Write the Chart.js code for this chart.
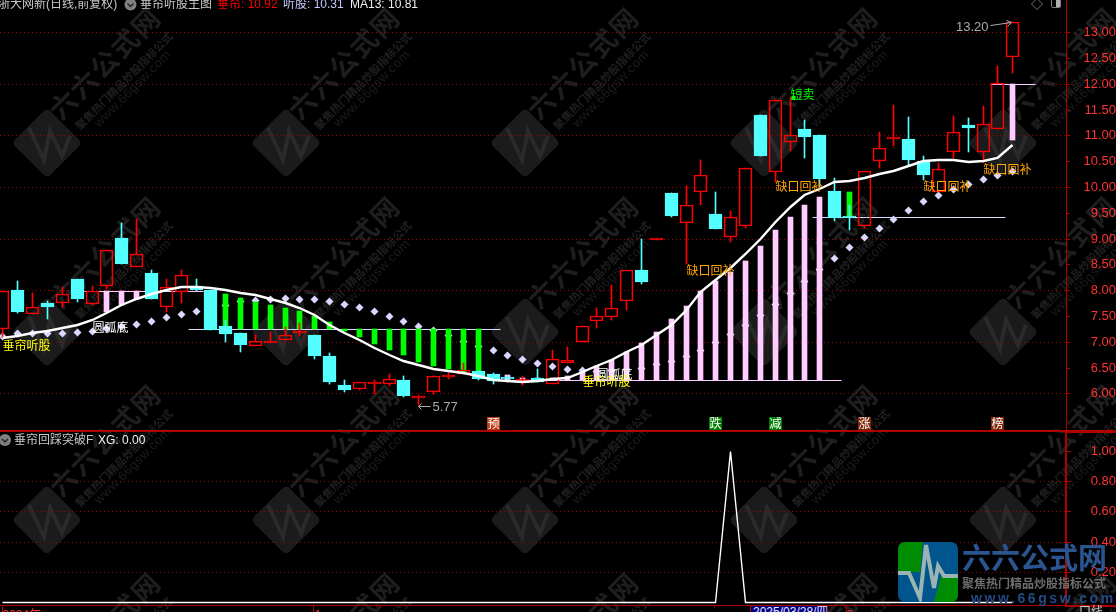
<!DOCTYPE html>
<html lang="zh">
<head>
    <meta charset="UTF-8">
    <title>垂帘听股主图</title>
    <script src="https://cdn.jsdelivr.net/npm/chart.js"></script>
    <style>
        html, body {
            margin: 0;
            width: 1116px;
            height: 612px;
            overflow: hidden;
            background: #000;
        }
        body {
            position: relative;
            font-family: "Liberation Sans", "Noto Sans CJK SC", sans-serif;
            font-size: 12px;
        }
        canvas, .t, .line, #selBox, #dateBox, #logo, svg { position: absolute; }
        .t { white-space: nowrap; line-height: 14px; }
        .line { background: #b00000; }
        #selBox { left: 1065px; top: 431px; width: 60px; height: 172px; border: 2px solid #b00000; }
        #dateBox {
            left: 750px; top: 605px; width: 78px; height: 12px;
            background: #000080; border: 1px solid #b00000; box-sizing: border-box;
            color: #e6e6ff; padding-left: 2px; line-height: 13px; white-space: nowrap; overflow: hidden;
        }
        #logoTitle { left: 962px; top: 540px; font: bold 29px/32px "Noto Sans CJK SC"; color: #2a5590; }
        #logoSub { left: 962px; top: 575px; font: bold 12px/16px "Noto Sans CJK SC"; color: #6e6e6e; }
        #logoUrl { left: 971px; top: 590px; font: bold 14px/16px "Liberation Sans"; color: #234a85; letter-spacing: 2.6px; }
    </style>
</head>
<body>
    <canvas id="wm" width="1116" height="612" style="left:0;top:0"></canvas>
    <canvas id="priceChart" width="1116" height="431" style="left:0;top:0"></canvas>
    <canvas id="xgChart" width="1116" height="181" style="left:0;top:431px"></canvas>

    <div class="line" style="left:0;top:430px;width:1116px;height:2px"></div>
    <div id="selBox"></div>

    <span class="t" style="left:-2px;top:-3px;color:#c8c8c8">浙大网新(日线,前复权)</span>
    <svg style="left:124px;top:-2px" width="13" height="13"><circle cx="6.5" cy="6.5" r="6" fill="#808080"/><path d="M3.5 5.5l3 3 3-3" stroke="#222" stroke-width="1.4" fill="none"/></svg>
    <span class="t" style="left:140px;top:-3px;color:#c8c8c8">垂帘听股主图</span>
    <span class="t" style="left:217px;top:-3px;color:#ff0000">垂帘: 10.92</span>
    <span class="t" style="left:283px;top:-3px;color:#c8c8ff">听股: 10.31</span>
    <span class="t" style="left:350px;top:-3px;color:#f0f0f0">MA13: 10.81</span>
    <svg style="left:1030px;top:-2px" width="36" height="14"><path d="M7 0.5l5.5 5.5-5.5 5.5-5.5-5.5z" fill="none" stroke="#707070"/><rect x="21.5" y="0.5" width="9" height="9" rx="1.5" fill="none" stroke="#808080"/><rect x="26" y="1" width="4" height="8" fill="#b0b0b0"/></svg>

    <svg style="left:-1px;top:434px" width="13" height="13"><circle cx="6" cy="6" r="6" fill="#808080"/><path d="M3 5l3 3 3-3" stroke="#222" stroke-width="1.4" fill="none"/></svg>
    <span class="t" style="left:14px;top:433px;color:#c8c8c8">垂帘回踩突破F</span>
    <span class="t" style="left:98px;top:433px;color:#f0f0f0">XG: 0.00</span>

    <div id="dateBox">2025/03/28/四</div>
    <span class="t" style="left:1079px;top:605px;color:#c8c8c8">口线</span>

    <svg style="left:898px;top:542px" width="60" height="60" viewBox="0 0 60 60">
        <clipPath id="tile"><rect width="60" height="60" rx="7"/></clipPath>
        <g clip-path="url(#tile)">
            <rect width="60" height="60" fill="#00558c"/>
            <path d="M0 0H25L22 30H0z" fill="#008c00"/>
            <path d="M36 60H60V32H44z" fill="#008c00"/>
            <path d="M0 31H11L22 56 28 3 36 46 40 24 46 34H60" fill="none" stroke="#9ab4b4" stroke-width="4"/>
        </g>
    </svg>
    <span class="t" id="logoTitle">六六公式网</span>
    <span class="t" id="logoSub">聚焦热门精品炒股指标公式</span>
    <span class="t" id="logoUrl">www.66gsw.com</span>

    <script>
        // daily candles
        const candleOpen = [7.25, 8.00, 7.54, 7.75, 7.76, 8.22, 7.74, 8.09, 9.01, 8.45, 8.33, 7.68, 7.97, 8.09, 8.00, 7.30, 7.17, 6.92, 6.98, 7.04, 7.16, 7.14, 6.72, 6.17, 6.09, 6.19, 6.19, 6.25, 5.90, 6.03, 6.32, 6.38, 6.43, 6.37, 6.29, 6.23, 6.29, 6.19, 6.59, 7.00, 7.41, 7.47, 7.78, 8.40, 8.98, 9.88, 9.30, 9.90, 9.48, 9.04, 9.25, 11.40, 10.30, 10.88, 11.12, 11.01, 9.92, 9.42, 9.25, 10.51, 10.94, 10.93, 10.51, 9.91, 10.68, 11.20, 10.67, 11.12, 12.52];
        const candleClose = [7.98, 7.58, 7.67, 7.68, 7.92, 7.83, 7.98, 8.77, 8.51, 8.71, 7.83, 8.06, 8.29, 8.00, 7.23, 7.15, 6.94, 7.01, 7.01, 7.14, 7.19, 6.72, 6.22, 6.06, 6.21, 6.22, 6.27, 5.95, 5.94, 6.33, 6.35, 6.45, 6.28, 6.24, 6.28, 6.24, 6.21, 6.66, 6.64, 7.30, 7.49, 7.65, 8.40, 8.16, 8.99, 9.44, 9.65, 10.23, 9.19, 9.41, 10.36, 10.60, 11.68, 11.00, 10.97, 10.16, 9.40, 9.39, 10.32, 10.75, 10.97, 10.52, 10.23, 10.34, 11.06, 11.14, 11.22, 12.01, 13.20];
        const candleHigh = [7.98, 8.18, 7.94, 7.79, 8.06, 8.22, 8.08, 8.77, 9.30, 9.38, 8.39, 8.21, 8.39, 8.22, 8.00, 7.42, 7.17, 7.14, 7.19, 7.28, 7.37, 7.14, 6.78, 6.26, 6.21, 6.26, 6.37, 6.33, 5.96, 6.33, 6.43, 6.59, 6.43, 6.40, 6.34, 6.33, 6.47, 6.84, 6.89, 7.30, 7.65, 8.10, 8.40, 9.00, 8.99, 9.88, 10.01, 10.52, 9.90, 9.53, 10.36, 11.40, 11.68, 11.75, 11.29, 11.01, 10.17, 9.65, 10.32, 11.07, 11.59, 11.36, 10.60, 10.46, 11.38, 11.34, 11.57, 12.35, 13.20];
        const candleLow = [7.08, 7.56, 7.53, 7.44, 7.68, 7.77, 7.71, 8.02, 8.51, 8.45, 7.83, 7.58, 7.76, 7.98, 7.23, 7.00, 6.80, 6.92, 6.98, 7.04, 7.12, 6.67, 6.18, 6.03, 6.06, 5.99, 6.15, 5.93, 5.77, 5.99, 6.28, 6.38, 6.26, 6.19, 6.21, 6.16, 6.21, 6.19, 6.59, 7.00, 7.27, 7.42, 7.61, 8.11, 8.98, 9.42, 8.51, 9.65, 9.19, 8.94, 9.21, 10.60, 10.10, 10.70, 10.57, 10.00, 9.35, 9.17, 9.21, 10.37, 10.80, 10.41, 10.13, 9.91, 10.57, 10.68, 10.46, 11.12, 12.22];

        const ma13Values = [7.08, 7.12, 7.16, 7.21, 7.27, 7.32, 7.42, 7.56, 7.71, 7.83, 7.92, 8.00, 8.06, 8.07, 8.04, 8.01, 7.95, 7.90, 7.82, 7.76, 7.65, 7.51, 7.32, 7.16, 7.03, 6.87, 6.75, 6.63, 6.54, 6.48, 6.44, 6.40, 6.33, 6.26, 6.23, 6.22, 6.24, 6.28, 6.30, 6.42, 6.52, 6.65, 6.81, 6.94, 7.13, 7.32, 7.61, 7.97, 8.20, 8.42, 8.70, 9.00, 9.33, 9.62, 9.85, 9.97, 10.10, 10.12, 10.18, 10.25, 10.32, 10.41, 10.50, 10.52, 10.53, 10.49, 10.50, 10.57, 10.81];
        const tingguValues = [7.12, 7.16, 7.16, 7.17, 7.17, 7.19, 7.21, 7.26, 7.30, 7.35, 7.40, 7.48, 7.54, 7.60, 7.65, 7.72, 7.78, 7.80, 7.82, 7.84, 7.83, 7.82, 7.78, 7.73, 7.68, 7.60, 7.50, 7.41, 7.31, 7.22, 7.13, 7.01, 6.92, 6.83, 6.74, 6.67, 6.59, 6.52, 6.47, 6.45, 6.44, 6.45, 6.47, 6.50, 6.56, 6.63, 6.72, 6.84, 6.99, 7.15, 7.32, 7.52, 7.73, 7.95, 8.18, 8.41, 8.62, 8.84, 9.04, 9.21, 9.38, 9.55, 9.72, 9.85, 9.97, 10.06, 10.16, 10.23, 10.31];

        const pinkIdx = [7, 8, 9, 34, 35, 36, 37, 38, 39, 40, 41, 42, 43, 44, 45, 46, 47, 48, 49, 50, 51, 52, 53, 54, 55, 68];
        const pinkFrom = [7.98, 7.98, 7.98, 6.25, 6.25, 6.25, 6.25, 6.25, 6.25, 6.25, 6.25, 6.25, 6.25, 6.25, 6.25, 6.25, 6.25, 6.25, 6.25, 6.25, 6.25, 6.25, 6.25, 6.25, 6.25, 12.00];
        const pinkTo = [7.58, 7.71, 7.83, 6.35, 6.29, 6.29, 6.30, 6.33, 6.42, 6.52, 6.65, 6.81, 6.97, 7.19, 7.45, 7.69, 7.98, 8.18, 8.35, 8.57, 8.86, 9.17, 9.42, 9.65, 9.80, 10.91];

        const greenIdx = [15, 16, 17, 18, 19, 20, 21, 22, 23, 24, 25, 26, 27, 28, 29, 30, 31, 32, 57];
        const greenFrom = [7.24, 7.24, 7.24, 7.24, 7.24, 7.24, 7.24, 7.24, 7.24, 7.24, 7.24, 7.24, 7.24, 7.24, 7.24, 7.24, 7.24, 7.24, 9.41];
        const greenTo = [7.92, 7.85, 7.77, 7.71, 7.65, 7.60, 7.50, 7.38, 7.21, 7.10, 6.95, 6.84, 6.74, 6.61, 6.53, 6.47, 6.42, 6.37, 9.91];

        const pinkLevelStart = [5.5, 33.5, 66.5];
        const pinkLevelEnd = [13.5, 56.5, 69.5];
        const pinkLevelValue = [7.98, 6.25, 12.00];
        const blueLevelStart = [12.5, 54.5];
        const blueLevelEnd = [33.5, 67.5];
        const blueLevelValue = [7.24, 9.41];

        const noteIdx = [0, 6, 39, 40, 46, 52, 62, 66, 53];
        const noteVal = [6.94, 7.29, 6.24, 6.37, 8.39, 10.01, 10.02, 10.35, 11.80];
        const noteText = ['垂帘听股', '圆弧底', '垂帘听股', '圆弧底', '缺口回补', '缺口回补', '缺口回补', '缺口回补', '短卖'];

        const tagIdx = [33, 48, 52, 58, 67];
        const tagText = ['预', '跌', '减', '涨', '榜'];

        const xgValues = [0, 0, 0, 0, 0, 0, 0, 0, 0, 0, 0, 0, 0, 0, 0, 0, 0, 0, 0, 0, 0, 0, 0, 0, 0, 0, 0, 0, 0, 0, 0, 0, 0, 0, 0, 0, 0, 0, 0, 0, 0, 0, 0, 0, 0, 0, 0, 0, 0, 1, 0, 0, 0, 0, 0, 0, 0, 0, 0, 0, 0, 0, 0, 0, 0, 0, 0, 0, 0];

        const priceTicks = [6, 6.5, 7, 7.5, 8, 8.5, 9, 9.5, 10, 10.5, 11, 11.5, 12, 12.5, 13];
        const xgTicks = [0.2, 0.4, 0.6, 0.8, 1];
        const dateTicks = [0, 20.9, 56.8];
        const dateLabels = ['2024年', '4', '3'];
        const dateMinorTicks = [25.4, 47.9];

        const RED = '#ff0000', CYAN = '#54ffff', PINK = '#ffccff', GREEN = '#00ff00', LAVENDER = '#d8d8ff';
        const AXIS = '#b00000', GRID = '#a00000', LABEL = '#ff3232';
        const CJK = '"Noto Sans CJK SC"';
        const NOTE_COLORS = { '垂帘听股': '#ffff00', '圆弧底': '#ffffff', '缺口回补': '#ffa500', '短卖': '#00ff00' };
        const TAG_COLORS = { '预': '#be3c14', '跌': '#008000', '减': '#008000', '涨': '#82280a', '榜': '#82280a' };

        // the original terminal does not antialias, so snap the scales to whole pixels
        class PixelScale extends Chart.LinearScale {
            static id = 'pixel';
            getPixelForValue(value) { return Math.round(super.getPixelForValue(value)) + 0.5; }
        }
        class EdgeScale extends Chart.LinearScale {
            static id = 'edge';
            getPixelForValue(value) { return Math.round(super.getPixelForValue(value)); }
        }
        Chart.register(PixelScale, EdgeScale);

        const X_MIN = -0.168, X_MAX = 71.62;
        const PRICE_MIN = 5.269, PRICE_MAX = 13.626;
        const XG_MIN = -0.018, XG_MAX = 1.132;

        function drawWatermark() {
            const ctx = document.getElementById('wm').getContext('2d');
            const columns = [47, 286, 525, 764, 1003], rows = [143, 332, 520, 708];
            rows.forEach(cy => columns.forEach(cx => {
                ctx.save();
                ctx.translate(cx, cy);
                ctx.rotate(-Math.PI / 4);
                ctx.fillStyle = '#1b1b1b';
                ctx.beginPath();
                ctx.roundRect(-25, -25, 50, 50, 5);
                ctx.fill();
                ctx.rotate(Math.PI / 4);
                ctx.strokeStyle = '#2a2a2a';
                ctx.lineWidth = 4;
                ctx.beginPath();
                [[-18, -15], [-3, 17], [3, -12], [15, 13], [23, -7]].forEach(p => ctx.lineTo(p[0], p[1]));
                ctx.stroke();
                ctx.textAlign = 'center';
                ctx.textBaseline = 'middle';
                const text = (s, dx, dy, font, color, spacing) => {
                    ctx.save();
                    ctx.translate(dx, dy);
                    ctx.rotate(-Math.PI / 4);
                    ctx.font = font;
                    ctx.letterSpacing = spacing;
                    ctx.fillStyle = color;
                    ctx.fillText(s, 0, 0);
                    ctx.restore();
                };
                text('六六公式网', 58, -80, 'bold 27px ' + CJK, '#1e1e1e', '2px');
                text('聚焦热门精品炒股指标公式', 77, -62, 'bold 11px ' + CJK, '#202020', '0px');
                text('www.66gsw.com', 86, -54, '13px "Liberation Sans"', '#1c1c1c', '0.5px');
                ctx.restore();
            }));
        }

        const notePlugin = {
            id: 'notes',
            afterDatasetsDraw(chart) {
                const { ctx, chartArea, scales: { x, y } } = chart;
                ctx.save();
                ctx.textBaseline = 'middle';
                ctx.textAlign = 'left';
                ctx.font = '12px ' + CJK;
                noteText.forEach((s, i) => {
                    const px = x.getPixelForValue(noteIdx[i]), py = y.getPixelForValue(noteVal[i]);
                    if (s === '短卖') {
                        ctx.fillStyle = GREEN;
                        ctx.fillRect(px + 1, py + 2, 4, 4);
                    }
                    ctx.fillStyle = NOTE_COLORS[s];
                    ctx.fillText(s, px, py);
                });

                // high and low marks with their little arrows
                ctx.font = '13px "Liberation Sans"';
                ctx.fillStyle = '#aaaaaa';
                ctx.strokeStyle = '#aaaaaa';
                ctx.lineWidth = 1;
                const hx = x.getPixelForValue(68), hy = y.getPixelForValue(candleHigh[68]);
                ctx.textAlign = 'right';
                ctx.fillText(candleHigh[68].toFixed(2), hx - 24, hy + 5);
                ctx.beginPath();
                ctx.moveTo(hx - 22, hy + 3.5);
                ctx.lineTo(hx - 1, hy + 0.5);
                ctx.moveTo(hx - 6, hy - 1.5);
                ctx.lineTo(hx - 1, hy + 0.5);
                ctx.lineTo(hx - 5, hy + 4.5);
                ctx.stroke();
                const lx = x.getPixelForValue(28), ly = y.getPixelForValue(candleLow[28]);
                ctx.textAlign = 'left';
                ctx.fillText(candleLow[28].toFixed(2), lx + 14, ly + 2);
                ctx.beginPath();
                ctx.moveTo(lx + 12, ly + 1.5);
                ctx.lineTo(lx, ly + 1.5);
                ctx.moveTo(lx + 3, ly - 1.5);
                ctx.lineTo(lx, ly + 1.5);
                ctx.lineTo(lx + 3, ly + 4.5);
                ctx.stroke();

                // event tags along the bottom of the price pane
                ctx.textAlign = 'center';
                ctx.font = '12px ' + CJK;
                tagText.forEach((s, i) => {
                    const px = x.getPixelForValue(tagIdx[i]);
                    ctx.fillStyle = TAG_COLORS[s];
                    ctx.fillRect(px - 6.5, chartArea.bottom - 14, 13, 13);
                    ctx.fillStyle = '#ffffff';
                    ctx.fillText(s, px, chartArea.bottom - 7.5);
                });
                ctx.restore();
            }
        };

        const minorTickPlugin = {
            id: 'minorTicks',
            afterDatasetsDraw(chart) {
                const { ctx, chartArea, scales: { x } } = chart;
                ctx.fillStyle = AXIS;
                dateMinorTicks.forEach(v => ctx.fillRect(Math.floor(x.getPixelForValue(v)), chartArea.bottom, 1, 3));
            }
        };

        function xy(xs, ys) {
            return xs.map((v, i) => ({ x: v, y: ys[i] }));
        }

        function bars(xs, from, to, colors, width, order, min) {
            return {
                type: 'bar',
                data: xs.map((v, i) => ({ x: v, y: [from[i], to[i]] })),
                backgroundColor: colors,
                grouped: false,
                barThickness: width,
                maxBarThickness: width,
                minBarLength: min || 0,
                borderWidth: 0,
                clip: false,
                yAxisID: 'y',
                order: order
            };
        }

        function levelLine(start, end, value, color) {
            return {
                type: 'line',
                data: [{ x: start, y: value }, { x: end, y: value }],
                borderColor: color,
                borderWidth: 1,
                pointRadius: 0,
                yAxisID: 'yLine',
                order: 7
            };
        }

        const idx = candleOpen.map((_, i) => i);
        const candleColor = idx.map(i => candleClose[i] >= candleOpen[i] ? RED : CYAN);
        const bodyTop = idx.map(i => Math.max(candleOpen[i], candleClose[i]));
        const bodyBottom = idx.map(i => Math.min(candleOpen[i], candleClose[i]));

        const bodies = bars(idx, bodyBottom, bodyTop, idx.map(i => candleColor[i] === RED ? 'rgba(0,0,0,0)' : CYAN), 13, 2, 2);
        bodies.borderColor = candleColor;
        bodies.borderWidth = 1;
        bodies.borderSkipped = false;

        const datasets = [
            {
                type: 'line',
                data: xy(idx, tingguValues),
                showLine: false,
                pointStyle: 'rectRot',
                pointRadius: 4,
                pointBackgroundColor: LAVENDER,
                pointBorderWidth: 0,
                clip: false,
                yAxisID: 'yLine',
                order: 8
            },
            ...pinkLevelStart.map((v, i) => levelLine(v, pinkLevelEnd[i], pinkLevelValue[i], PINK)),
            ...blueLevelStart.map((v, i) => levelLine(v, blueLevelEnd[i], blueLevelValue[i], LAVENDER)),
            bars(pinkIdx, pinkFrom, pinkTo, PINK, 5, 6),
            bars(greenIdx, greenFrom, greenTo, GREEN, 5, 6),
            bars(idx, bodyTop, candleHigh, candleColor, 1, 3),
            bars(idx, candleLow, bodyBottom, candleColor, 1, 3),
            bodies,
            {
                type: 'line',
                data: xy(idx, ma13Values),
                borderColor: '#ffffff',
                borderWidth: 2.4,
                pointRadius: 0,
                tension: 0,
                clip: false,
                yAxisID: 'y',
                order: 1
            }
        ];

        function fixWidth(scale) {
            scale.width = 50;
            scale.paddingTop = 0;
            scale.paddingBottom = 0;
        }

        drawWatermark();

        new Chart(document.getElementById('priceChart'), {
            type: 'bar',
            data: { datasets: datasets },
            options: {
                responsive: false,
                animation: false,
                events: [],
                layout: { padding: 0, autoPadding: false },
                plugins: { legend: { display: false }, tooltip: { enabled: false } },
                scales: {
                    x: { type: 'pixel', min: X_MIN, max: X_MAX, display: false, offset: false },
                    yLine: { type: 'pixel', min: PRICE_MIN, max: PRICE_MAX, display: false },
                    y: {
                        type: 'edge',
                        position: 'right',
                        min: PRICE_MIN,
                        max: PRICE_MAX,
                        afterFit: fixWidth,
                        afterBuildTicks: ax => { ax.ticks = priceTicks.map(v => ({ value: v })); },
                        grid: {
                            color: c => Number.isInteger(c.tick.value) ? GRID : 'rgba(0,0,0,0)',
                            tickColor: AXIS,
                            tickLength: 4
                        },
                        border: { color: AXIS, dash: [1, 3] },
                        ticks: {
                            color: LABEL,
                            crossAlign: 'far',
                            padding: 10,
                            font: { family: 'Liberation Sans', size: 13 },
                            callback: v => v.toFixed(2)
                        }
                    }
                }
            },
            plugins: [notePlugin]
        });

        new Chart(document.getElementById('xgChart'), {
            type: 'line',
            data: {
                datasets: [{
                    data: xy(idx, xgValues),
                    borderColor: '#ffffff',
                    borderWidth: 1.4,
                    pointRadius: 0,
                    tension: 0
                }]
            },
            options: {
                responsive: false,
                animation: false,
                events: [],
                layout: { padding: 0, autoPadding: false },
                plugins: { legend: { display: false }, tooltip: { enabled: false } },
                scales: {
                    x: {
                        type: 'pixel',
                        min: X_MIN,
                        max: X_MAX,
                        afterFit: s => { s.height = 7; s.paddingLeft = 0; s.paddingRight = 0; },
                        afterBuildTicks: ax => { ax.ticks = dateTicks.map(v => ({ value: v })); },
                        grid: { display: true, drawOnChartArea: false, tickColor: AXIS, tickLength: 7 },
                        border: { color: AXIS },
                        ticks: {
                            color: LABEL,
                            align: 'start',
                            autoSkip: false,
                            maxRotation: 0,
                            padding: -4,
                            font: { family: 'Liberation Sans, Noto Sans CJK SC', size: 12 },
                            callback: (v, i) => dateLabels[i]
                        }
                    },
                    y: {
                        type: 'pixel',
                        position: 'right',
                        min: XG_MIN,
                        max: XG_MAX,
                        afterFit: fixWidth,
                        afterBuildTicks: ax => { ax.ticks = xgTicks.map(v => ({ value: v })); },
                        grid: {
                            color: c => c.tick.value < 1 ? GRID : 'rgba(0,0,0,0)',
                            tickColor: AXIS,
                            tickLength: 5
                        },
                        border: { color: AXIS, dash: [1, 3], width: 2 },
                        ticks: {
                            color: LABEL,
                            crossAlign: 'far',
                            padding: 14,
                            font: { family: 'Liberation Sans', size: 13 },
                            callback: v => v.toFixed(2)
                        }
                    }
                }
            },
            plugins: [minorTickPlugin]
        });
    </script>
</body>
</html>
